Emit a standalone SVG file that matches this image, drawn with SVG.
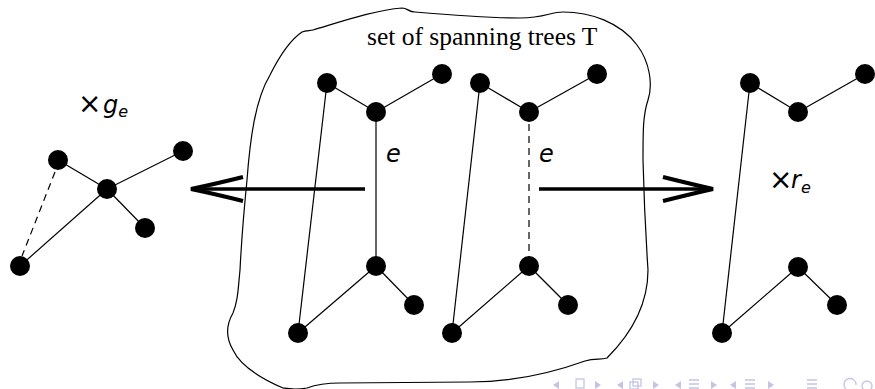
<svg xmlns="http://www.w3.org/2000/svg" width="875" height="389" viewBox="0 0 875 389">
<style>
.edge{stroke:#000;stroke-width:1.2;fill:none}
.dash{stroke:#000;stroke-width:1.2;fill:none;stroke-dasharray:7,5}
.node{fill:#000}
.blob{fill:none;stroke:#000;stroke-width:1.2}
.shaft{stroke:#000;stroke-width:3.5;fill:none}
.barb{stroke:#000;stroke-width:4;fill:none}
.math{font-family:"DejaVu Sans","Liberation Sans",sans-serif;fill:#000}
.it{font-style:oblique}
.title{font-family:"Liberation Serif","Times New Roman",serif;font-size:25.5px;fill:#000}
.nav{fill:none;stroke:#c4c4e6;stroke-width:1.3}
.navf{fill:#c4c4e6}
</style>
<path class="blob" d="M302,32 C306,30 310,31 313,30 C340,22 375,10 402,8 C408,8 408,12 415,12 C450,15 490,18 520,18 C545,18 550,12 563,12 C590,12 620,22 637,45 C650,62 653,85 648,100 C643,115 643,130 643,160 C644,200 646,240 648,270 C648,300 635,330 607,358 C600,360 595,358 585,361 C560,370 520,382 470,382 L340,383 C325,383 315,385 307,388 C295,390 290,389 283,388 C260,378 240,365 233,350 C226,338 226,325 233,313 C238,300 238,290 240,270 C242,230 245,200 247,180 C250,140 255,100 270,75 C280,55 290,40 302,32 Z"/>
<text class="title" x="367" y="45">set of spanning trees T</text>
<g id="connectors">
<line class="edge" x1="58" y1="160" x2="107" y2="189"/>
<line class="edge" x1="107" y1="189" x2="183" y2="151"/>
<line class="edge" x1="107" y1="189" x2="145" y2="228"/>
<line class="edge" x1="107" y1="189" x2="20" y2="266"/>
<line class="dash" x1="55" y1="172" x2="22" y2="256"/>
<line class="edge" x1="327" y1="83" x2="376" y2="112"/>
<line class="edge" x1="376" y1="112" x2="442" y2="74"/>
<line class="edge" x1="376" y1="112" x2="376" y2="266"/>
<line class="edge" x1="327" y1="83" x2="298" y2="333"/>
<line class="edge" x1="376" y1="266" x2="298" y2="333"/>
<line class="edge" x1="376" y1="266" x2="414" y2="305"/>
<line class="edge" x1="480" y1="83" x2="529" y2="112"/>
<line class="edge" x1="529" y1="112" x2="597" y2="74"/>
<line class="dash" x1="529" y1="124" x2="529" y2="258"/>
<line class="edge" x1="480" y1="83" x2="452" y2="333"/>
<line class="edge" x1="529" y1="266" x2="452" y2="333"/>
<line class="edge" x1="529" y1="266" x2="568" y2="305"/>
<line class="edge" x1="750" y1="83" x2="798" y2="112"/>
<line class="edge" x1="798" y1="112" x2="865" y2="74"/>
<line class="edge" x1="750" y1="83" x2="722" y2="333"/>
<line class="edge" x1="798" y1="267" x2="722" y2="333"/>
<line class="edge" x1="798" y1="267" x2="837" y2="305"/>
<line class="shaft" x1="365" y1="189" x2="194" y2="189"/>
<path class="barb" d="M243,177 Q215,184 191,189 Q215,194 243,201"/>
<line class="shaft" x1="539" y1="189" x2="709" y2="189"/>
<path class="barb" d="M663,177 Q691,184 713,189 Q691,194 663,201"/>
</g>
<g id="left-tree">
<circle class="node" cx="58" cy="160" r="10"/>
<circle class="node" cx="107" cy="189" r="10"/>
<circle class="node" cx="183" cy="151" r="10"/>
<circle class="node" cx="145" cy="228" r="10"/>
<circle class="node" cx="20" cy="266" r="10"/>
</g>
<g id="middle-tree-1">
<circle class="node" cx="327" cy="83" r="10"/>
<circle class="node" cx="376" cy="112" r="10"/>
<circle class="node" cx="442" cy="74" r="10"/>
<circle class="node" cx="376" cy="266" r="10"/>
<circle class="node" cx="414" cy="305" r="10"/>
<circle class="node" cx="298" cy="333" r="10"/>
</g>
<g id="middle-tree-2">
<circle class="node" cx="480" cy="83" r="10"/>
<circle class="node" cx="529" cy="112" r="10"/>
<circle class="node" cx="597" cy="74" r="10"/>
<circle class="node" cx="529" cy="266" r="10"/>
<circle class="node" cx="568" cy="305" r="10"/>
<circle class="node" cx="452" cy="333" r="10"/>
</g>
<g id="right-tree">
<circle class="node" cx="750" cy="83" r="10"/>
<circle class="node" cx="798" cy="112" r="10"/>
<circle class="node" cx="865" cy="74" r="10"/>
<circle class="node" cx="798" cy="267" r="10"/>
<circle class="node" cx="837" cy="305" r="10"/>
<circle class="node" cx="722" cy="333" r="10"/>
</g>
<g id="labels">
<text class="math" x="78" y="113" font-size="28">×</text>
<text class="math it" x="103" y="113" font-size="24">g<tspan font-size="16" dy="4">e</tspan></text>
<text class="math" x="769" y="189" font-size="28">×</text>
<text class="math it" x="791" y="188" font-size="24">r<tspan font-size="16" dy="5">e</tspan></text>
<text class="math it" x="386" y="162" font-size="24">e</text>
<text class="math it" x="539" y="162" font-size="24">e</text>
</g>
<g id="nav">
<path class="navf" d="M553,385 L559,381 L559,389 Z"/>
<rect class="nav" x="576" y="379" width="8" height="9"/>
<path class="navf" d="M595,381 L601,385 L595,389 Z"/>
<path class="navf" d="M617,385 L623,381 L623,389 Z"/>
<rect class="nav" x="630" y="382" width="8" height="7"/>
<rect class="nav" x="633" y="379" width="8" height="7"/>
<path class="navf" d="M653,381 L659,385 L653,389 Z"/>
<path class="navf" d="M675,385 L681,381 L681,389 Z"/>
<path class="nav" d="M689,380 H699 M689,384 H699 M689,388 H699"/>
<path class="navf" d="M711,381 L717,385 L711,389 Z"/>
<path class="navf" d="M730,385 L736,381 L736,389 Z"/>
<path class="nav" d="M745,380 H755 M745,384 H755 M745,388 H755"/>
<path class="navf" d="M768,381 L774,385 L768,389 Z"/>
<path class="nav" d="M807,380 H817 M807,384 H817 M807,388 H817"/>
<path class="nav" d="M846,389 A6,6 0 1 1 856,385"/>
<circle class="nav" cx="867" cy="386" r="5"/>
</g>
</svg>
